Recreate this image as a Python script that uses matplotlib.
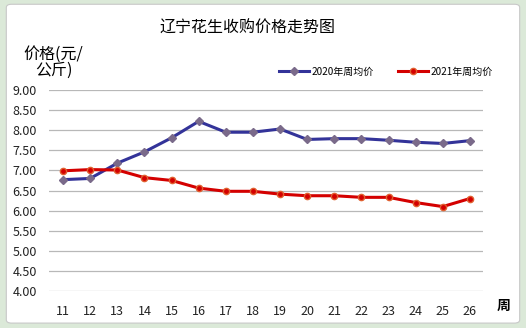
import matplotlib
matplotlib.use('Agg')
import matplotlib.pyplot as plt
from matplotlib.patches import FancyBboxPatch
import numpy as np

plt.rcParams['font.family'] = ['Noto Sans CJK SC', 'DejaVu Sans']

# data
weeks = ['11', '12', '13', '14', '15', '16', '17', '18',
         '19', '20', '21', '22', '23', '24', '25', '26']
price_2020 = [6.77, 6.80, 7.18, 7.46, 7.81, 8.22, 7.95, 7.95,
              8.03, 7.77, 7.79, 7.79, 7.75, 7.70, 7.67, 7.74]
price_2021 = [6.99, 7.02, 7.01, 6.82, 6.75, 6.56, 6.48, 6.48,
              6.41, 6.37, 6.37, 6.33, 6.33, 6.20, 6.10, 6.30]
yticks = [4.0, 4.5, 5.0, 5.5, 6.0, 6.5, 7.0, 7.5, 8.0, 8.5, 9.0]

fig = plt.figure(figsize=(5.26, 3.28), dpi=100, facecolor='#dbe9d8')
# white chart area with thin grey frame
bg = FancyBboxPatch((0.012, 0.015), 0.976, 0.972, boxstyle='round,pad=0,rounding_size=0.01',
                    transform=fig.transFigure, facecolor='white', edgecolor='#c8c8c8',
                    linewidth=0.8, zorder=-10)
fig.patches.append(bg)

ax = fig.add_axes([0.0941, 0.1128, 0.825, 0.6128])
ax.set_zorder(1)
ax.set_facecolor('none')
x = np.arange(len(weeks))

ax.plot(x, price_2020, color='#333399', linewidth=2.2, marker='D', markersize=4.5,
        markerfacecolor='#7a6a8a', markeredgecolor='#7a6a8a', label='2020年周均价', zorder=3)
ax.plot(x, price_2021, color='#d40000', linewidth=2.2, marker='o', markersize=4.5,
        markerfacecolor='#d40000', markeredgecolor='#e06030', label='2021年周均价', zorder=3)

ax.set_xlim(-0.5, len(weeks) - 0.5)
ax.set_ylim(4.0, 9.0)
ax.set_yticks(yticks)
ax.set_yticklabels(['%.2f' % v for v in yticks], fontsize=9, color='#222222')
ax.set_xticks(x)
ax.set_xticklabels(weeks, fontsize=9, color='#222222')
ax.tick_params(axis='both', length=0)
ax.tick_params(axis='y', pad=9)
ax.tick_params(axis='x', pad=10)
ax.grid(axis='y', color='#b8b8b8', linewidth=0.9)
ax.set_axisbelow(True)
for s in ax.spines.values():
    s.set_visible(False)

fig.text(0.47, 0.915, '辽宁花生收购价格走势图', fontsize=11.5, ha='center', va='center')
fig.text(0.102, 0.81, '价格(元/\n公斤)', fontsize=11.5, ha='center', va='center',
         linespacing=0.95)
fig.text(0.957, 0.067, '周', fontsize=10, fontweight='bold', ha='center', va='center')

ax.legend(loc='center', bbox_to_anchor=(0.775, 1.09), ncol=2, frameon=False,
          fontsize=7.2, handlelength=3.0, columnspacing=2.4, handletextpad=0.3)

fig.savefig('out.png', dpi=100, facecolor=fig.get_facecolor())
